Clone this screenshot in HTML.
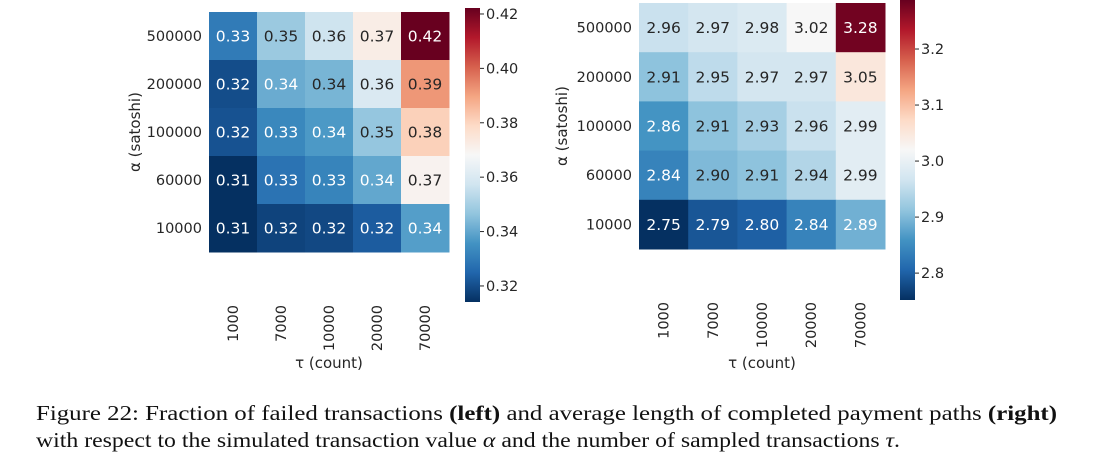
<!DOCTYPE html>
<html><head><meta charset="utf-8">
<style>
body{margin:0;background:#fff;width:1093px;height:458px;overflow:hidden;}
svg{position:absolute;left:0;top:0;}
.cap{position:absolute;left:36px;font-family:"Liberation Serif",serif;font-size:21px;line-height:27px;color:#111;white-space:nowrap;transform-origin:0 0;}
</style></head>
<body>
<svg id="chart" width="1093" height="400" style="font-family:'DejaVu Sans','Liberation Sans',sans-serif"></svg>
<div class="cap" id="cap1" style="top:400px">Figure 22: Fraction of failed transactions <b>(left)</b> and average length of completed payment paths <b>(right)</b></div>
<div class="cap" id="cap2" style="top:427px">with respect to the simulated transaction value <i>α</i> and the number of sampled transactions <i>τ</i>.</div>
<script>
const xCats = ["1000","7000","10000","20000","70000"];
const yCats = ["500000","200000","100000","60000","10000"];
const leftVals = [
 [0.33,0.35,0.36,0.37,0.42],
 [0.32,0.34,0.34,0.36,0.39],
 [0.32,0.33,0.34,0.35,0.38],
 [0.31,0.33,0.33,0.34,0.37],
 [0.31,0.32,0.32,0.32,0.34]];
const leftColorVals = [
 [0.330,0.348,0.357,0.372,0.422],
 [0.320,0.341,0.343,0.360,0.392],
 [0.321,0.333,0.337,0.347,0.381],
 [0.314,0.328,0.332,0.340,0.370],
 [0.314,0.318,0.319,0.323,0.338]];
const rightVals = [
 [2.96,2.97,2.98,3.02,3.28],
 [2.91,2.95,2.97,2.97,3.05],
 [2.86,2.91,2.93,2.96,2.99],
 [2.84,2.90,2.91,2.94,2.99],
 [2.75,2.79,2.80,2.84,2.89]];
const leftTicks = [0.32,0.34,0.36,0.38,0.40,0.42];
const rightTicks = [2.8,2.9,3.0,3.1,3.2];

const NS="http://www.w3.org/2000/svg";
const svg=document.getElementById('chart');
function el(tag,attrs,parent){const e=document.createElementNS(NS,tag);for(const k in attrs)e.setAttribute(k,attrs[k]);(parent||svg).appendChild(e);return e;}
const stops=["#053061","#2166ac","#4393c3","#92c5de","#d1e5f0","#f7f7f7","#fddbc7","#f4a582","#d6604d","#b2182b","#67001f"].map(h=>[parseInt(h.slice(1,3),16),parseInt(h.slice(3,5),16),parseInt(h.slice(5,7),16)]);
function cmap(t){t=Math.max(0,Math.min(1,t))*10;const i=Math.min(9,Math.floor(t)),f=t-i;const a=stops[i],b=stops[i+1];return [0,1,2].map(k=>Math.round(a[k]+(b[k]-a[k])*f));}
function lum(c){const l=c.map(v=>{v/=255;return v<=0.03928?v/12.92:Math.pow((v+0.055)/1.055,2.4);});return 0.2126*l[0]+0.7152*l[1]+0.0722*l[2];}

function heat(cfg){
  const g=el('g',{});
  
  
  const cw=cfg.w/5,ch=cfg.h/5;
  const norm=v=>(v-cfg.vmin)/(cfg.vmax-cfg.vmin);
  yCats.forEach((yc,r)=>{xCats.forEach((xc,c)=>{
    const col=cmap(norm(cfg.cvals[r][c]));
    const rc=el('rect',{x:cfg.x+c*cw,y:cfg.y+r*ch,width:cw+0.5,height:ch+0.5,fill:`rgb(${col})`},g);
    
    
    const t=el('text',{x:cfg.x+c*cw+cw/2,y:cfg.y+r*ch+ch/2+5.5,'text-anchor':'middle','font-size':15.5,fill:lum(col)>0.408?'#262626':'#ffffff'},g);
    t.textContent=cfg.vals[r][c].toFixed(2);
    
    
  });
    const yl=el('text',{x:cfg.x-7,y:cfg.y+r*ch+ch/2+5,'text-anchor':'end','font-size':14.5,fill:'#262626'},g);
    yl.textContent=yc;
    
    
  });
  xCats.forEach((xc,c)=>{
    const cx=cfg.x+c*cw+cw/2+5, ty=cfg.y+cfg.h+53;
    const xl=el('text',{x:cx,y:ty,'text-anchor':'end','font-size':14.5,fill:'#262626',transform:`rotate(-90 ${cx} ${ty})`},g);
    xl.textContent=xc;
    
    
  });
  const xt=el('text',{x:cfg.x+cfg.w/2,y:368,'text-anchor':'middle','font-size':15,fill:'#262626'},g);
  xt.textContent='τ (count)';
  
  
  const yx=cfg.ytx, yy=cfg.y+cfg.h/2;
  const yt=el('text',{x:yx,y:yy,'text-anchor':'middle','font-size':15,fill:'#262626',transform:`rotate(-90 ${yx} ${yy})`},g);
  yt.textContent='α (satoshi)';
  
  
  const cb=el('g',{},g);
  
  
  const gid='grad'+cfg.name;
  const defs=el('defs',{},cb);
  const lg=el('linearGradient',{id:gid,x1:0,y1:1,x2:0,y2:0},defs);
  for(let i=0;i<=20;i++){el('stop',{offset:i/20,'stop-color':`rgb(${cmap(i/20)})`},lg);}
  el('rect',{x:cfg.cbx,y:cfg.cby,width:cfg.cbw,height:cfg.cbh,fill:`url(#${gid})`},cb);
  const vy=v=>cfg.cby+cfg.cbh*(1-norm(v));
  cfg.ticks.forEach(v=>{
    el('line',{x1:cfg.cbx+cfg.cbw,x2:cfg.cbx+cfg.cbw+4,y1:vy(v),y2:vy(v),stroke:'#262626','stroke-width':1},cb);
    const tl=el('text',{x:cfg.cbx+cfg.cbw+6,y:vy(v)+5,'font-size':14.5,fill:'#262626'},cb);
    tl.textContent=v.toFixed(cfg.dec);
    
    
  });
}
heat({name:'left-heatmap',x:209,y:12,w:240,h:240,vals:leftVals,cvals:leftColorVals,vmin:0.3141,vmax:0.4222,ytx:140,cbx:465,cby:8,cbw:15,cbh:294,ticks:leftTicks,dec:2});
heat({name:'right-heatmap',x:639,y:3,w:246,h:246,vals:rightVals,cvals:rightVals,vmin:2.752,vmax:3.2875,ytx:567,cbx:900,cby:0,cbw:15,cbh:300,ticks:rightTicks,dec:1});
[['cap1',1021],['cap2',864]].forEach(([id,w])=>{const e=document.getElementById(id);const s=w/e.getBoundingClientRect().width;e.style.transform=`scaleX(${s})`;});
</script>
</body></html>
